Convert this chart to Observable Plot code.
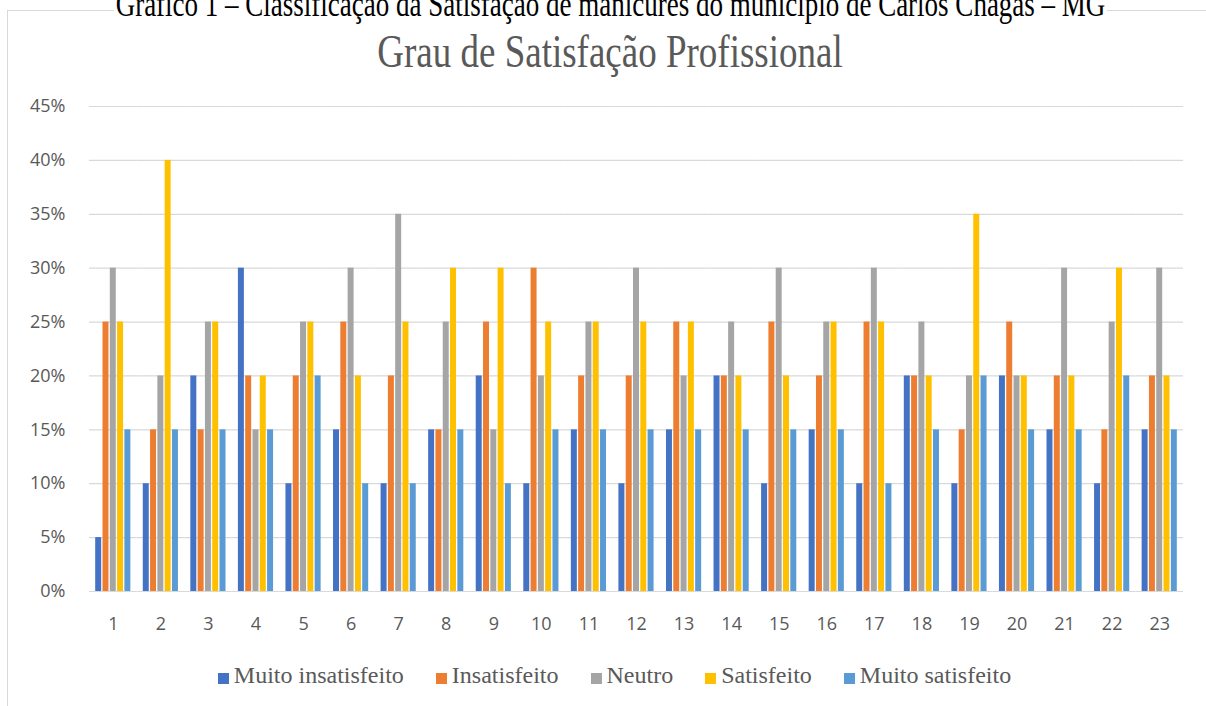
<!DOCTYPE html>
<html>
<head>
<meta charset="utf-8">
<script src="https://cdn.jsdelivr.net/npm/d3@7"></script>
<script src="https://cdn.jsdelivr.net/npm/@observablehq/plot@0.6"></script>
<style>
  html, body { margin: 0; padding: 0; background: #fff; overflow: hidden; }
  body { width: 1206px; height: 706px; position: relative; }
  #caption { position: absolute; left: 0; width: 1221px; top: -6px; text-align: center;
    font-family: "Liberation Serif", serif; font-size: 27px; line-height: 27px; color: #000;
    transform: scaleY(1.3); transform-origin: 50% 22.6px; white-space: nowrap; }
  #caption span { background: #fff; padding: 0 2px; }
  #frame { position: absolute; left: 7px; top: 10px; width: 1240px; height: 740px;
    border: 1px solid #d9d9d9; box-sizing: border-box; }
  #title { position: absolute; left: 0; width: 1220px; top: 36px; text-align: center;
    font-family: "Liberation Serif", serif; font-size: 37px; line-height: 37px; color: #595959;
    transform: scaleY(1.25); transform-origin: 50% 31px; white-space: nowrap; }
  #chart { position: absolute; left: 0; top: 90px; }
  #legend { position: absolute; left: 0; width: 1229px; top: 663px; text-align: center;
    font-family: "Liberation Serif", serif; font-size: 24px; line-height: 24px; color: #595959; white-space: nowrap; }
  .item { display: inline-block; margin: 0 16px; }
  .sw { display: inline-block; width: 11px; height: 11px; margin-right: 5px; vertical-align: baseline; position: relative; top: 1px; }
</style>
</head>
<body>
<div id="frame"></div>
<div id="caption"><span>Gráfico 1 – Classificação da Satisfação de manicures do município de Carlos Chagas – MG</span></div>
<div id="title">Grau de Satisfação Profissional</div>
<div id="chart"></div>
<div id="legend"></div>
<script>
// ---- Data ----
const groups = ["1","2","3","4","5","6","7","8","9","10","11","12","13","14","15","16","17","18","19","20","21","22","23"];
const seriesNames = ["Muito insatisfeito", "Insatisfeito", "Neutro", "Satisfeito", "Muito satisfeito"];
const seriesColors = ["#4472C4", "#ED7D31", "#A5A5A5", "#FFC000", "#5B9BD5"];
const muitoInsatisfeito = [0.05,0.10,0.20,0.30,0.10,0.15,0.10,0.15,0.20,0.10,0.15,0.10,0.15,0.20,0.10,0.15,0.10,0.20,0.10,0.20,0.15,0.10,0.15];
const insatisfeito      = [0.25,0.15,0.15,0.20,0.20,0.25,0.20,0.15,0.25,0.30,0.20,0.20,0.25,0.20,0.25,0.20,0.25,0.20,0.15,0.25,0.20,0.15,0.20];
const neutro            = [0.30,0.20,0.25,0.15,0.25,0.30,0.35,0.25,0.15,0.20,0.25,0.30,0.20,0.25,0.30,0.25,0.30,0.25,0.20,0.20,0.30,0.25,0.30];
const satisfeito        = [0.25,0.40,0.25,0.20,0.25,0.20,0.25,0.30,0.30,0.25,0.25,0.25,0.25,0.20,0.20,0.25,0.25,0.20,0.35,0.20,0.20,0.30,0.20];
const muitoSatisfeito   = [0.15,0.15,0.15,0.15,0.20,0.10,0.10,0.15,0.10,0.15,0.15,0.15,0.15,0.15,0.15,0.15,0.10,0.15,0.20,0.15,0.15,0.20,0.15];
const yTicks = [0, 0.05, 0.10, 0.15, 0.20, 0.25, 0.30, 0.35, 0.40, 0.45];

// ---- Table for Plot ----
const seriesValues = [muitoInsatisfeito, insatisfeito, neutro, satisfeito, muitoSatisfeito];
const table = [];
groups.forEach((g, i) => {
  seriesNames.forEach((s, j) => {
    table.push({group: g, series: s, value: seriesValues[j][i]});
  });
});

const chart = Plot.plot({
  width: 1206,
  height: 560,
  marginLeft: 89,
  marginRight: 23,
  marginTop: 16,
  marginBottom: 59,
  style: {fontFamily: "'Open Sans', sans-serif", fontSize: "18px", color: "#595959", background: "transparent"},
  fx: {domain: groups, padding: 0, round: false, label: null},
  x: {domain: seriesNames, paddingInner: 0.18, paddingOuter: 0.85, round: false, axis: null},
  y: {domain: [0, 0.45]},
  color: {domain: seriesNames, range: seriesColors},
  marks: [
    Plot.gridY(yTicks, {stroke: "#d9d9d9", strokeOpacity: 1, strokeWidth: 1.2}),
    Plot.axisY({ticks: yTicks, tickFormat: d3.format(".0%"), tickSize: 0, tickPadding: 24, label: null, fontSize: 18}),
    Plot.axisFx({anchor: "bottom", tickSize: 0, tickPadding: 26, label: null, fontSize: 18}),
    Plot.barY(table, {fx: "group", x: "series", y: "value", fill: "series"})
  ]
});
document.getElementById("chart").appendChild(chart);

// ---- Legend ----
const legend = document.getElementById("legend");
seriesNames.forEach((s, j) => {
  const item = document.createElement("span");
  item.className = "item";
  const sw = document.createElement("span");
  sw.className = "sw";
  sw.style.background = seriesColors[j];
  item.appendChild(sw);
  item.appendChild(document.createTextNode(s));
  legend.appendChild(item);
});
</script>
</body>
</html>
